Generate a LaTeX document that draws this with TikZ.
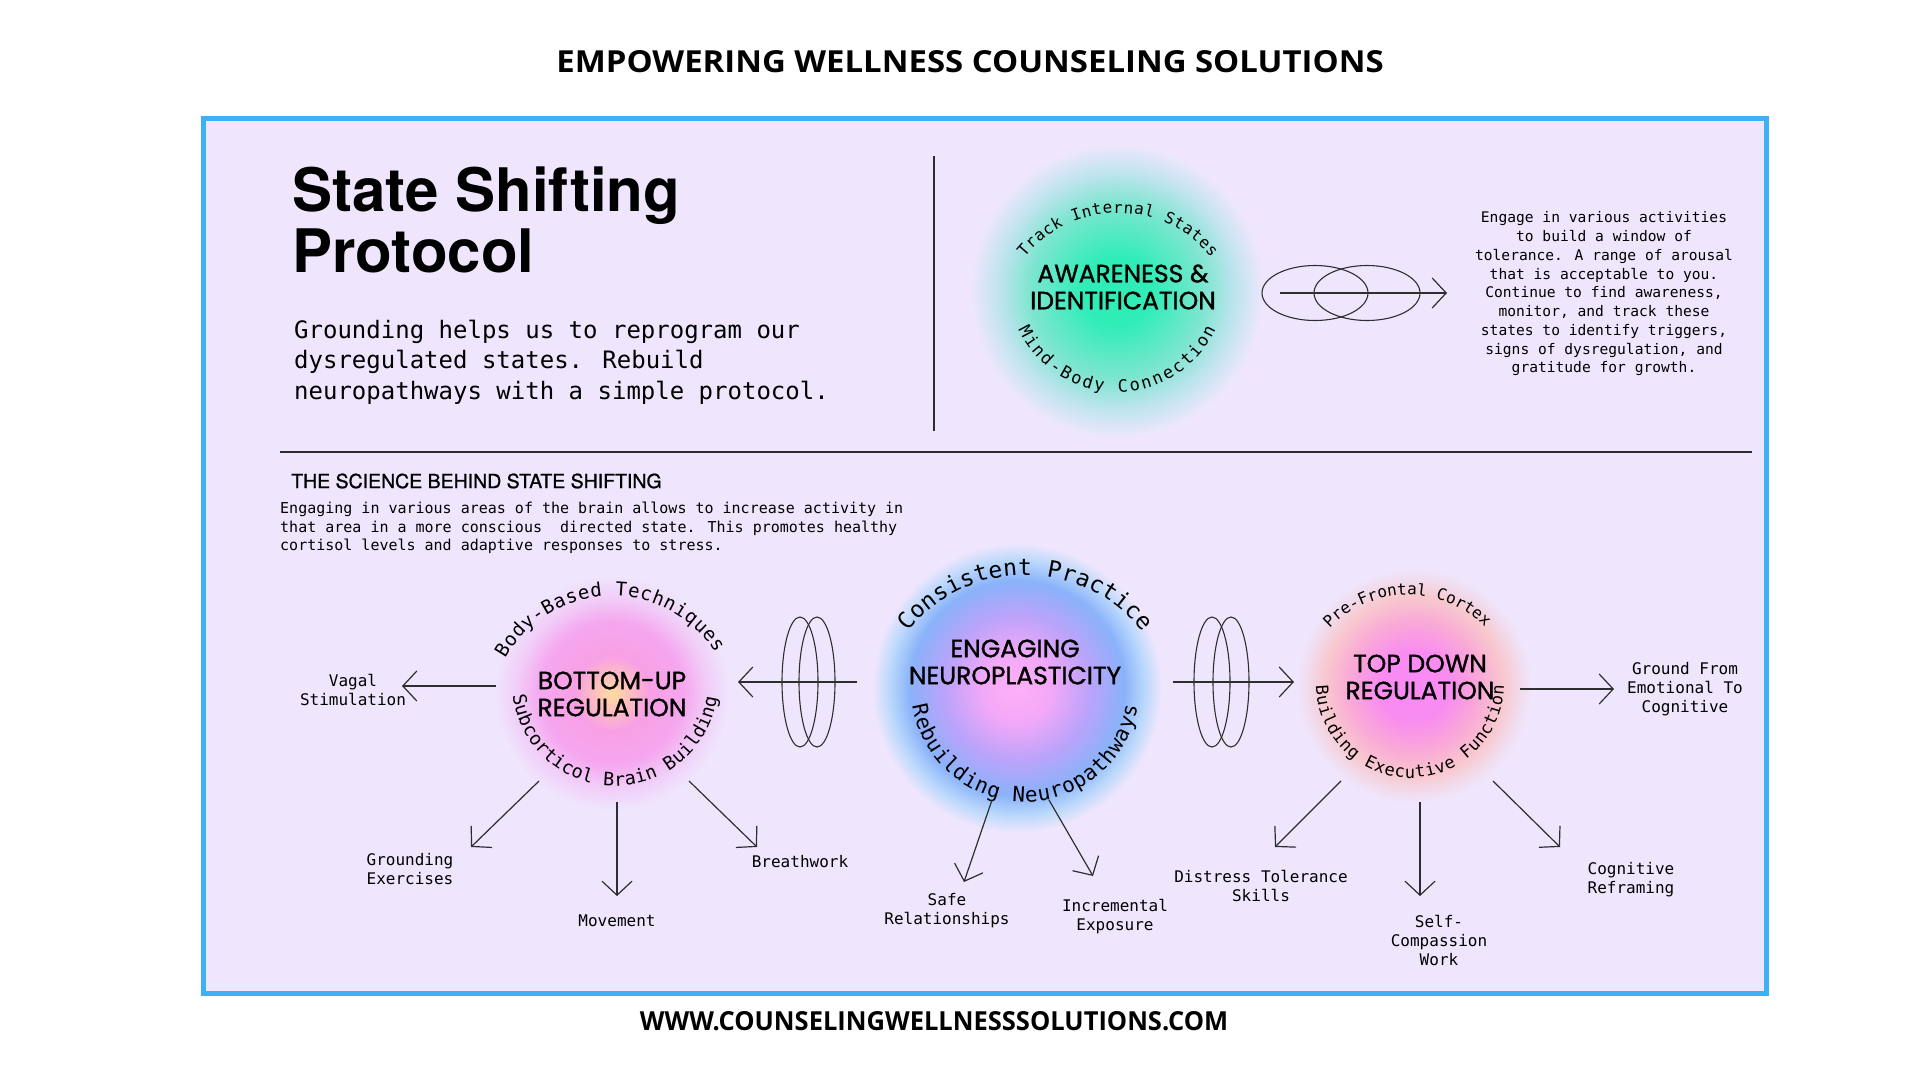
\documentclass[tikz,border=0pt]{standalone}
\usepackage{fontspec}
\usetikzlibrary{arrows.meta,decorations.text}
\newfontfamily\monof{DejaVu Sans Mono}
\newfontfamily\headf{Poppins}[FakeBold=1.2]
\newfontfamily\herosf{TeX Gyre Heros}
\newfontfamily\herosm{TeX Gyre Heros}[FakeBold=1.0]
\newfontfamily\opensf{Open Sans}
\definecolor{lav}{HTML}{EFE6FD}
\definecolor{frameblue}{HTML}{3FAFF6}
\definecolor{linec}{HTML}{2E2E2E}
\definecolor{gA1}{HTML}{30EDB8}
\definecolor{gA2}{HTML}{7FE5D0}
\definecolor{gA3}{HTML}{BDE4EE}
\definecolor{gB1}{HTML}{FFDCA0}
\definecolor{gB2}{HTML}{FFC4B8}
\definecolor{gB3}{HTML}{F8A0E6}
\definecolor{gB4}{HTML}{F5A6EE}
\definecolor{gB5}{HTML}{F1CCF8}
\definecolor{gC1}{HTML}{FFB0F6}
\definecolor{gC2}{HTML}{F2A8F8}
\definecolor{gC3}{HTML}{BBA3FA}
\definecolor{gC4}{HTML}{8AB2FA}
\definecolor{gC5}{HTML}{BAD8FB}
\definecolor{gD1}{HTML}{F98AF7}
\definecolor{gD2}{HTML}{F98CF0}
\definecolor{gD3}{HTML}{F9AAD6}
\definecolor{gD4}{HTML}{F8C8CE}
\definecolor{gD5}{HTML}{F1DBEC}
\pgfdeclareradialshading{glowA}{\pgfpoint{0bp}{0bp}}{color(0bp)=(gA1); color(6bp)=(gA1); color(15bp)=(gA2); color(20bp)=(gA3); color(25bp)=(lav); color(50bp)=(lav)}
\pgfdeclareradialshading{glowB}{\pgfpoint{0bp}{0bp}}{color(0bp)=(gB1); color(3bp)=(gB2); color(8bp)=(gB3); color(15bp)=(gB4); color(20bp)=(gB5); color(25bp)=(lav); color(50bp)=(lav)}
\pgfdeclareradialshading{glowC}{\pgfpoint{0bp}{0bp}}{color(0bp)=(gC1); color(6bp)=(gC2); color(12.5bp)=(gC3); color(18.5bp)=(gC4); color(22bp)=(gC5); color(25bp)=(lav); color(50bp)=(lav)}
\pgfdeclareradialshading{glowD}{\pgfpoint{0bp}{0bp}}{color(0bp)=(gD1); color(7.5bp)=(gD2); color(14bp)=(gD3); color(19bp)=(gD4); color(22.5bp)=(gD5); color(25bp)=(lav); color(50bp)=(lav)}
% cx, cy, r, start angle, end angle, text
\newcommand{\ArcText}[6]{%
  \path[decorate,decoration={text along path,text={#6},text align={fit to path}}]
    (#1,#2) ++(#4:#3) arc[start angle=#4,end angle=#5,radius=#3];}
\begin{document}
\begin{tikzpicture}[x=1pt,y=1pt,
  conn/.style={draw=linec,line width=1.2pt,-{Straight Barb[length=14pt,width=30pt]}},
  plain/.style={draw=linec,line width=1.2pt},
  ring/.style={draw=linec,line width=1.1pt},
  lbl/.style={inner sep=0pt,align=center,font=\monof\fontsize{16}{19}\selectfont,text=black},
  head/.style={inner sep=0pt,align=center,font=\headf\fontsize{25}{27}\selectfont,text=black}]
\useasboundingbox (0,0) rectangle (1920,-1080);
\fill[white] (0,0) rectangle (1920,-1080);
% header and footer
\node[inner sep=0pt] (hdr) at (970,-62) {\resizebox{827pt}{22pt}{\opensf\bfseries EMPOWERING WELLNESS COUNSELING SOLUTIONS}};
\node[inner sep=0pt] (url) at (934,-1021) {\resizebox{588pt}{19pt}{\opensf\bfseries WWW.COUNSELINGWELLNESSSOLUTIONS.COM}};
% frame
\draw[draw=frameblue,line width=5pt,fill=lav] (203,-118) rectangle (1766,-993);
% dividers
\draw[plain] (934,-156) -- (934,-431);
\draw[plain] (280,-452) -- (1752,-452);
% title block
\node[anchor=base west,inner sep=0pt,font=\herosf\bfseries\fontsize{60}{60}\selectfont] (t1) at (292,-211) {State Shifting};
\node[anchor=base west,inner sep=0pt,font=\herosf\bfseries\fontsize{60}{60}\selectfont] (t2) at (292,-272) {Protocol};
\node[anchor=west,inner sep=0pt,align=left,font=\monof\fontsize{24}{30.5}\selectfont] (intro) at (294,-362) {Grounding helps us to reprogram our\\dysregulated states. Rebuild\\neuropathways with a simple protocol.};
% science block
\node[anchor=west,inner sep=0pt,font=\herosm\fontsize{19.5}{20}\selectfont] (sci) at (291,-481) {THE SCIENCE BEHIND STATE SHIFTING};
\node[anchor=west,inner sep=0pt,align=left,font=\monof\fontsize{15}{18.5}\selectfont] (scip) at (280,-528) {Engaging in various areas of the brain allows to increase activity in\\that area in a more conscious\ \ directed state. This promotes healthy\\cortisol levels and adaptive responses to stress.};
% glows
\shade[shading=glowA] (1117,-291) circle (147);
\shade[shading=glowB] (612,-693) circle (118);
\shade[shading=glowC] (1017,-688) circle (145);
\shade[shading=glowD] (1414,-686) circle (118);
% circle headings
\node[head] (aware) at (1123,-287) {AWARENESS \&\\IDENTIFICATION};
\node[head] (bottomup) at (612,-694) {BOTTOM-UP\\REGULATION};
\node[head] (engage) at (1015,-662) {ENGAGING\\NEUROPLASTICITY};
\node[head] (topdown) at (1420,-677) {TOP DOWN\\REGULATION};
% curved texts
\ArcText{1118}{-333}{120}{141}{39}{|\monof\fontsize{16}{16}\selectfont|Track Internal States}
\ArcText{1117}{-283}{109}{205}{335}{|\monof\fontsize{17}{17}\selectfont|Mind-Body Connection}
\ArcText{612}{-718}{122}{151}{32}{|\monof\fontsize{19}{19}\selectfont|Body-Based Techniques}
\ArcText{615}{-683}{103}{187}{352}{|\monof\fontsize{18.5}{18.5}\selectfont|Subcorticol Brain Building}
\ArcText{1025}{-725}{150}{141.5}{38.5}{|\monof\fontsize{23}{23}\selectfont|Consistent Practice}
\ArcText{1025}{-688}{114}{189}{351}{|\monof\fontsize{21}{21}\selectfont|Rebuilding Neuropathways}
\ArcText{1408}{-703}{108}{136.5}{46.5}{|\monof\fontsize{16}{16}\selectfont|Pre-Frontal Cortex}
\ArcText{1410}{-684}{94}{181}{359}{|\monof\fontsize{17}{17}\selectfont|Building Executive Function}
% awareness connector and description
\draw[ring] (1315,-293) ellipse [x radius=53,y radius=27.5];
\draw[ring] (1367,-293) ellipse [x radius=53,y radius=27.5];
\coordinate (awS) at (1280,-293);
\coordinate (awE) at (1447,-293);
\draw[conn] (awS) -- (awE);
\node[inner sep=0pt,align=center,font=\monof\fontsize{14.6}{18.75}\selectfont] (desc) at (1604,-294) {Engage in various activities\\to build a window of\\tolerance. A range of arousal\\that is acceptable to you.\\Continue to find awareness,\\monitor, and track these\\states to identify triggers,\\signs of dysregulation, and\\gratitude for growth.};
% left rings (engaging -> bottom-up)
\draw[ring] (800,-682) ellipse [x radius=18,y radius=65];
\draw[ring] (817,-682) ellipse [x radius=18,y radius=65];
\coordinate (lS) at (857,-682);
\coordinate (lE) at (738,-682);
\draw[conn] (lS) -- (lE);
% right rings (engaging -> top-down)
\draw[ring] (1212,-682) ellipse [x radius=18,y radius=65];
\draw[ring] (1231,-682) ellipse [x radius=18,y radius=65];
\coordinate (rS) at (1173,-682);
\coordinate (rE) at (1294,-682);
\draw[conn] (rS) -- (rE);
% bottom-up branches
\node[lbl] (vagal) at (353,-690) {Vagal\\Stimulation};
\node[lbl] (ground) at (410,-869) {Grounding\\Exercises};
\node[lbl] (move) at (617,-921) {Movement};
\node[lbl] (breath) at (800,-862) {Breathwork};
\coordinate (buW) at (496,-686);  \coordinate (vagT) at (402,-686);
\coordinate (buSW) at (539,-781); \coordinate (grT) at (471,-847);
\coordinate (buS) at (617,-802);  \coordinate (moT) at (617,-896);
\coordinate (buSE) at (689,-781); \coordinate (brT) at (757,-847);
\draw[conn] (buW) -- (vagT);
\draw[conn] (buSW) -- (grT);
\draw[conn] (buS) -- (moT);
\draw[conn] (buSE) -- (brT);
% engaging branches
\node[lbl] (safe) at (947,-911) {Safe\\Relationships};
\node[lbl] (incr) at (1115,-917) {Incremental\\Exposure};
\coordinate (enSW) at (992,-800); \coordinate (saT) at (964,-882);
\coordinate (enSE) at (1049,-800); \coordinate (inT) at (1093,-876);
\draw[conn] (enSW) -- (saT);
\draw[conn] (enSE) -- (inT);
% top-down branches
\node[lbl] (gfe) at (1685,-689) {Ground From\\Emotional To\\Cognitive};
\node[lbl] (distress) at (1261,-886) {Distress Tolerance\\Skills};
\node[lbl] (selfc) at (1439,-940) {Self-\\Compassion\\Work};
\node[lbl] (reframe) at (1631,-880) {Cognitive\\Reframing};
\coordinate (tdE) at (1520,-689);  \coordinate (gfT) at (1614,-689);
\coordinate (tdSW) at (1341,-781); \coordinate (diT) at (1275,-847);
\coordinate (tdS) at (1420,-802);  \coordinate (seT) at (1420,-896);
\coordinate (tdSE) at (1493,-781); \coordinate (reT) at (1560,-847);
\draw[conn] (tdE) -- (gfT);
\draw[conn] (tdSW) -- (diT);
\draw[conn] (tdS) -- (seT);
\draw[conn] (tdSE) -- (reT);
\end{tikzpicture}
\end{document}
